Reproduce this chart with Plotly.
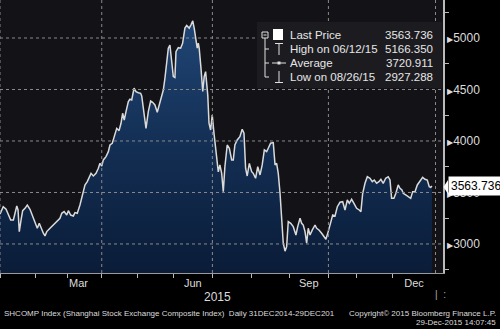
import plotly.graph_objects as go

# ---- data (trading-session index from 31 Dec 2014, close values) ----
sessions = [0, 1.8, 3.4, 4.6, 6.0, 7.5, 8.4, 9.4, 10.1, 10.8, 11.8, 12.7, 14.0, 15.3, 16.8, 18.3,
            19.6, 20.9, 22.0, 23.4, 24.3, 25.2, 26.2, 28.0, 29.9, 31.8, 33.6, 34.6, 35.9, 37.4,
            38.3, 39.6, 41.1, 42.0, 43.3, 44.8, 46.3, 47.6, 48.9, 50.0, 51.0, 52.3, 53.8, 55.1,
            56.0, 57.0, 57.9, 59.4, 60.7, 61.6, 62.9, 64.0, 65.4, 66.7, 67.8, 68.7, 69.6, 70.6,
            71.9, 72.8, 73.8, 75.1, 76.2, 77.5, 78.8, 79.4, 80.7, 81.8, 83.1, 84.4, 85.5, 86.8,
            88.1, 89.2, 90.2, 91.5, 92.4, 93.4, 94.3, 95.2, 96.2, 97.1, 98.0, 98.6, 99.9, 101.2,
            102.3, 103.6, 104.6, 106.0, 107.0, 108.0, 108.8, 109.8, 110.5, 111.1, 111.6, 112.6,
            113.6, 114.4, 115.2, 116.4, 117.1, 118.0, 118.9, 119.9, 121.0, 122.3, 123.2, 124.2,
            125.1, 126.0, 127.3, 128.5, 129.8, 130.7, 131.6, 132.9, 134.4, 135.7, 136.7, 137.6,
            138.5, 139.7, 141.0, 141.9, 143.2, 144.4, 145.7, 146.9, 148.1, 149.4, 150.3, 151.6,
            153.1, 154.1, 155.0, 155.9, 156.9, 157.8, 158.7, 159.7, 160.6, 161.5, 162.9, 164.3,
            165.8, 166.8, 168.1, 169.0, 169.9, 170.9, 171.8, 172.7, 173.7, 175.0, 176.5, 177.4,
            178.7, 180.2, 181.5, 182.6, 183.9, 185.3, 186.4, 187.7, 189.0, 190.5, 192.0, 193.3,
            194.6, 195.7, 197.0, 198.3, 199.8, 201.3, 202.2, 203.2, 204.5, 205.8, 207.3, 208.6,
            209.7, 211.0, 212.3, 213.4, 214.7, 216.1, 217.5, 218.5, 219.4, 220.7, 221.8, 223.1,
            224.1, 225.2, 225.9, 227.3, 228.7, 230.1, 231.2, 232.5, 233.8, 235.3, 236.8, 238.1,
            239.4, 240.5, 241.3, 242.0]
prices = [3290, 3362, 3337, 3281, 3233, 3233, 3314, 3369, 3330, 3120, 3233, 3323, 3346, 3378, 3337, 3265,
          3217, 3152, 3201, 3136, 3104, 3078, 3120, 3152, 3184, 3226, 3249, 3298, 3314, 3281,
          3323, 3281, 3272, 3304, 3298, 3378, 3492, 3573, 3605, 3653, 3686, 3660, 3686, 3735,
          3783, 3757, 3816, 3848, 3896, 3961, 3978, 4042, 4123, 4100, 4172, 4269, 4204, 4285,
          4382, 4405, 4398, 4512, 4479, 4469, 4463, 4437, 4252, 4123, 4285, 4388, 4375, 4350,
          4279, 4350, 4408, 4495, 4609, 4804, 4901, 4932, 4770, 4625, 4616, 4867, 4906, 4901,
          4949, 5096, 5122, 5096, 5128, 5166, 5096, 4980, 4901, 4949, 4901, 4707,
          4480, 4625, 4673, 4447, 4172, 4107, 4252, 4075, 3920, 3700, 3767, 3686,
          3508, 3750, 3961, 3929, 3816, 3816, 3961, 4010, 4042, 4114, 4075, 3735,
          3660, 3783, 3702, 3686, 3638, 3750, 3670, 3767, 3913, 3896, 3929, 3978,
          3984, 3767, 3783, 3686, 3492, 3265, 3007, 2930, 2974, 3217, 3201, 3168,
          3087, 3168, 3249, 3201, 3184, 3120, 3007, 3152, 3087, 3136, 3184, 3152,
          3136, 3104, 3071, 3046, 3120, 3201, 3281, 3272, 3362, 3405, 3410, 3330,
          3427, 3395, 3434, 3395, 3346, 3330, 3314, 3492, 3589, 3653, 3638, 3605,
          3621, 3589, 3605, 3628, 3589, 3638, 3653, 3621, 3443, 3443, 3492, 3573,
          3541, 3524, 3492, 3476, 3459, 3443, 3508, 3508, 3573, 3605, 3647, 3628,
          3621, 3556, 3550, 3563.736]
assert len(sessions) == len(prices)

month_starts = [0, 20, 38, 57, 77, 97, 119, 141, 162, 184, 200, 220]
quarter_starts = [0, 57, 119, 184]
label_pos = [44, 108, 173, 232]
label_text = ["Mar", "Jun", "Sep", "Dec"]
y_ticks = [3000, 3500, 4000, 4500, 5000]
y_minor = [2750, 3250, 3750, 4250, 4750, 5250]
last_session = 244
x_range = [0, 248.2]
y_range = [2718, 5369]

legend_labels = ["Last Price", "High on 06/12/15", "Average", "Low on 08/26/15"]
legend_values = ["3563.736", "5166.350", "3720.911", "2927.288"]
last_price = 3563.736

W, H = 500, 329
ML, MR, MT, MB = 0, 57, 0, 56
PW, PH = W - ML - MR, H - MT - MB

def px(x):
    return (x - ML) / PW

def py(y):
    return 1 - (y - MT) / PH

FONT = "Liberation Sans, Arial, sans-serif"
TXT = "#dcdcdc"
GRID = "#8a8a8a"

fig = go.Figure()
fig.add_trace(go.Scatter(
    x=sessions, y=prices, mode="lines",
    line=dict(color="#dadada", width=1.5),
    fill="tozeroy",
    fillgradient=dict(type="vertical", start=y_range[0], stop=y_range[1],
                      colorscale=[[0, "#0a1c38"], [0.5, "#143056"], [1, "#22497a"]]),
    hoverinfo="skip", showlegend=False,
))

shapes = []
for v in y_ticks:
    shapes.append(dict(type="line", xref="paper", yref="y", x0=0, x1=1, y0=v, y1=v,
                       line=dict(color=GRID, width=1, dash="dot"), layer="above"))
for q in quarter_starts:
    shapes.append(dict(type="line", xref="x", yref="paper", x0=q, x1=q, y0=0, y1=1,
                       line=dict(color=GRID, width=1, dash="dot"), layer="above"))
shapes.append(dict(type="line", xref="x", yref="paper", x0=last_session, x1=last_session, y0=0, y1=1,
                   line=dict(color=GRID, width=1, dash="dot"), layer="above"))

# legend box
shapes.append(dict(type="rect", xref="paper", yref="paper", x0=px(257), x1=px(442), y0=py(88), y1=py(22),
                   fillcolor="#1c1c20", line=dict(width=0), layer="above"))
WL = dict(color="#e0e0e0", width=1)
# collapse box
shapes.append(dict(type="rect", xref="paper", yref="paper", x0=px(262), x1=px(268), y0=py(38), y1=py(32),
                   line=WL, fillcolor="#1c1c20", layer="above"))
shapes.append(dict(type="line", xref="paper", yref="paper", x0=px(263.5), x1=px(266.5), y0=py(35), y1=py(35),
                   line=WL, layer="above"))
# tree
shapes.append(dict(type="line", xref="paper", yref="paper", x0=px(265), x1=px(265), y0=py(38), y1=py(77),
                   line=WL, layer="above"))
for yy in [49, 63, 77]:
    shapes.append(dict(type="line", xref="paper", yref="paper", x0=px(265), x1=px(269), y0=py(yy), y1=py(yy),
                       line=WL, layer="above"))
# last price square
shapes.append(dict(type="rect", xref="paper", yref="paper", x0=px(273), x1=px(283), y0=py(40), y1=py(29),
                   fillcolor="#ffffff", line=dict(width=0), layer="above"))
# high icon
shapes.append(dict(type="line", xref="paper", yref="paper", x0=px(275), x1=px(283), y0=py(43.5), y1=py(43.5),
                   line=WL, layer="above"))
shapes.append(dict(type="line", xref="paper", yref="paper", x0=px(279), x1=px(279), y0=py(43.5), y1=py(55),
                   line=WL, layer="above"))
# average icon
shapes.append(dict(type="line", xref="paper", yref="paper", x0=px(272), x1=px(286), y0=py(63), y1=py(63),
                   line=WL, layer="above"))
shapes.append(dict(type="rect", xref="paper", yref="paper", x0=px(277.5), x1=px(280.5), y0=py(64.5), y1=py(61.5),
                   fillcolor="#e0e0e0", line=dict(width=0), layer="above"))
# low icon
shapes.append(dict(type="line", xref="paper", yref="paper", x0=px(279), x1=px(279), y0=py(71), y1=py(82.5),
                   line=WL, layer="above"))
shapes.append(dict(type="line", xref="paper", yref="paper", x0=px(275), x1=px(283), y0=py(82.5), y1=py(82.5),
                   line=WL, layer="above"))
# pointer of last price tag
shapes.append(dict(type="path", xref="paper", yref="paper",
                   path=f"M {px(443.5)} {py(187)} L {px(448)} {py(180)} L {px(448)} {py(194)} Z",
                   fillcolor="#ffffff", line=dict(width=0), layer="above"))

annotations = []
rows_y = [35, 49, 63, 77]
for lab, val, yy in zip(legend_labels, legend_values, rows_y):
    annotations.append(dict(xref="paper", yref="paper", x=px(288), y=py(yy), text=lab, showarrow=False,
                            xanchor="left", yanchor="middle", font=dict(family=FONT, size=11.5, color="#e6e6e6")))
    annotations.append(dict(xref="paper", yref="paper", x=px(435), y=py(yy), text=val, showarrow=False,
                            xanchor="right", yanchor="middle", font=dict(family=FONT, size=11.5, color="#e6e6e6")))

annotations.append(dict(xref="paper", yref="y", x=px(447.5), y=last_price, text=f"{last_price:.3f}",
                        showarrow=False, xanchor="left", yanchor="middle", bgcolor="#ffffff", borderpad=2,
                        font=dict(family=FONT, size=12, color="#000000")))
annotations.append(dict(xref="paper", yref="paper", x=px(217), y=py(297), text="2015", showarrow=False,
                        xanchor="center", yanchor="middle", font=dict(family=FONT, size=12, color=TXT)))
annotations.append(dict(xref="paper", yref="paper", x=px(2), y=py(313),
                        text="SHCOMP Index (Shanghai Stock Exchange Composite Index)  Daily 31DEC2014-29DEC201",
                        showarrow=False, xanchor="left", yanchor="middle",
                        font=dict(family=FONT, size=8, color=TXT)))
annotations.append(dict(xref="paper", yref="paper", x=px(498), y=py(313),
                        text="Copyright\u00a9 2015 Bloomberg Finance L.P.",
                        showarrow=False, xanchor="right", yanchor="middle",
                        font=dict(family=FONT, size=8, color=TXT)))
annotations.append(dict(xref="paper", yref="paper", x=px(498), y=py(322),
                        text="29-Dec-2015 14:07:45",
                        showarrow=False, xanchor="right", yanchor="middle",
                        font=dict(family=FONT, size=8, color=TXT)))
annotations.append(dict(xref="paper", yref="paper", x=px(440), y=py(294), text="|  :",
                        showarrow=False, xanchor="center", yanchor="middle",
                        font=dict(family=FONT, size=10, color="#aaaaaa")))

fig.update_layout(
    width=W, height=H,
    margin=dict(l=ML, r=MR, t=MT, b=MB, pad=0),
    paper_bgcolor="#000000", plot_bgcolor="#131317",
    showlegend=False,
    shapes=shapes, annotations=annotations,
    xaxis=dict(range=x_range, showgrid=False, zeroline=False,
               tickmode="array", tickvals=label_pos, ticktext=label_text, ticks="",
               tickfont=dict(family=FONT, size=11, color=TXT),
               showline=True, linecolor="#9a9a9a", linewidth=1,
               minor=dict(tickmode="array", tickvals=month_starts, ticks="outside",
                          ticklen=4, tickcolor="#bbbbbb", showgrid=False)),
    yaxis=dict(range=y_range, side="right", showgrid=False, zeroline=False,
               tickmode="array", tickvals=y_ticks,
               ticktext=[f"<span style='font-size:8px'>\u25b6</span>{v}" for v in y_ticks],
               ticks="", tickfont=dict(family=FONT, size=12, color=TXT),
               showline=True, linecolor="#bbbbbb", linewidth=1.5,
               minor=dict(tickmode="array", tickvals=y_minor, ticks="outside",
                          ticklen=4, tickcolor="#bbbbbb")),
)

fig.write_html("out.html")
